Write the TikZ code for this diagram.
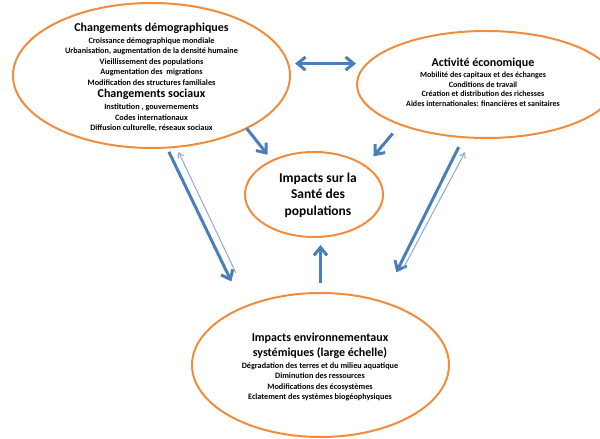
\documentclass[tikz,border=0pt]{standalone}
\usepackage{fontspec}
\setmainfont{Carlito}
\usetikzlibrary{shapes.geometric,arrows.meta}
\definecolor{orangebulle}{RGB}{240,140,60}
\definecolor{bleufleche}{RGB}{74,126,187}
\definecolor{bleuclair}{RGB}{140,170,215}
\newcommand{\titre}[1]{{\fontsize{6}{7}\selectfont\bfseries #1}}

\begin{document}
\begin{tikzpicture}[x=0.5pt,y=0.5pt,
	bulle/.style={ellipse,draw=orangebulle,line width=1pt,inner sep=0pt,outer sep=0pt},
	texte/.style={align=center,inner sep=0pt,font=\fontsize{4.1}{5.25}\selectfont\bfseries},
	fleche/.style={draw=bleufleche,line width=1.5pt,->,>={Straight Barb[length=4pt,width=6.5pt]}},
	retour/.style={draw=bleuclair,line width=0.5pt,->,>={Straight Barb[length=2.5pt,width=3pt]}}]
\useasboundingbox (0,0) rectangle (600,439);
% les bulles
\node[bulle,minimum width=138.5pt,minimum height=72.5pt] (demo) at (151.5,363.5) {};
\node[bulle,minimum width=129pt,minimum height=53.5pt] (eco) at (486,354.5) {};
\node[bulle,minimum width=69pt,minimum height=42.5pt] (sante) at (314,244.5) {};
\node[bulle,minimum width=128.5pt,minimum height=72pt] (envir) at (320.5,74) {};
% les textes
\node[texte] (demotxt) at (151.5,361.5) {\titre{Changements démographiques}\\[0.6pt]
	Croissance démographique mondiale\\
	Urbanisation, augmentation de la densité humaine\\
	Vieillissement des populations\\
	Augmentation des\ \ migrations\\
	Modification des structures familiales\\[0.6pt]
	\titre{Changements sociaux}\\[1pt]
	Institution , gouvernements\\
	Codes internationaux\\
	Diffusion culturelle, réseaux sociaux};
\node[texte,font=\fontsize{4}{4.85}\selectfont\bfseries] (ecotxt) at (483,356.5) {\titre{Activité économique}\\[0.6pt]
	Mobilité des capitaux et des échanges\\
	Conditions de travail\\
	Création et distribution des richesses\\
	Aides internationales: financières et sanitaires};
\node[texte,font=\fontsize{6.75}{8.25}\selectfont\bfseries] (santetxt) at (318,244)
	{Impacts sur la\\Santé des\\populations};
\node[texte] (envirtxt) at (320,72) {\titre{Impacts environnementaux}\\[1.25pt]
	\titre{systémiques (large échelle)}\\[0.75pt]
	Dégradation des terres et du milieu aquatique\\
	Diminution des ressources\\
	Modifications des écosystèmes\\
	Eclatement des systèmes biogéophysiques};
% fleches
\draw[fleche,<->,shorten <=3.5pt,shorten >=0.5pt] (demo.5) -- (demo.5 -| eco.west);
\draw[fleche,shorten >=3.8pt] (demo.-29.5) -- (sante.141.5);
\draw[fleche,shorten <=5.9pt,shorten >=6.35pt] (eco.-155.9) -- (sante.29.1);
\draw[fleche,shorten <=5pt,shorten >=4pt] (envir.north) -- (envir.north |- sante.south);
\draw[fleche,shorten <=2.4pt,shorten >=14.3pt] (demo.-78.7) -- (envir.143.8);
\draw[retour,shorten <=17.6pt,shorten >=2.8pt] (envir.139.5) -- (demo.-71.35);
\draw[fleche,shorten <=5.5pt,shorten >=16.4pt] (eco.-113.6) -- (envir.46.9);
\draw[retour,shorten <=19.6pt,shorten >=8.1pt] (envir.44.3) -- (eco.-104.1);
\end{tikzpicture}
\end{document}
